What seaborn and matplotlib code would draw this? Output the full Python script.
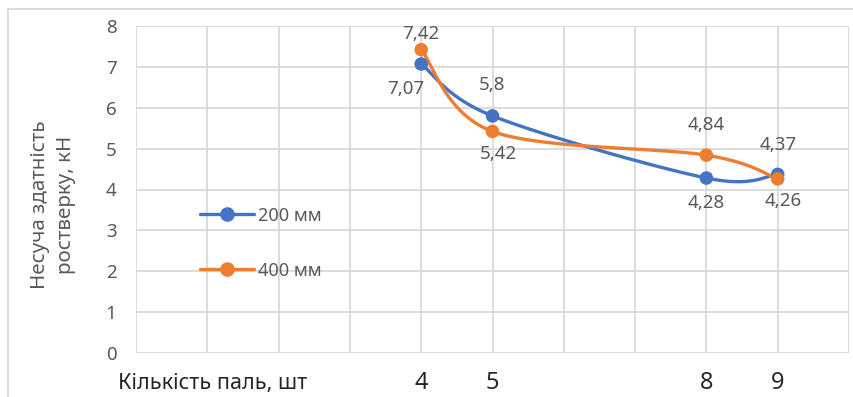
import numpy as np
import pandas as pd
import matplotlib
matplotlib.use("Agg")
import matplotlib.pyplot as plt
from matplotlib.lines import Line2D
import seaborn as sns

# ---- data ----
piles = [4, 5, 8, 9]
s200 = [7.07, 5.8, 4.28, 4.37]
s400 = [7.42, 5.42, 4.84, 4.26]
lab200 = ["7,07", "5,8", "4,28", "4,37"]
lab400 = ["7,42", "5,42", "4,84", "4,26"]
series_names = ["200 мм", "400 мм"]
xticks = [4, 5, 8, 9]
yticks = [0, 1, 2, 3, 4, 5, 6, 7, 8]

sns.set_theme(style="white")
plt.rcParams["font.family"] = ["Noto Sans", "DejaVu Sans"]

BLUE = "#4472C4"
ORANGE = "#ED7D31"
GRAY = "#595959"
GRID = "#D9D9D9"


def smooth(xs, ys, n=60):
    """Excel-like smoothed line (Catmull-Rom Bezier) through the data points."""
    P = np.column_stack([xs, ys]).astype(float)
    ext = np.vstack([P[0], P, P[-1]])
    out = []
    t = np.linspace(0, 1, n)[:, None]
    for i in range(len(P) - 1):
        p0, p1, p2, p3 = ext[i], ext[i + 1], ext[i + 2], ext[i + 3]
        c1 = p1 + (p2 - p0) / 6
        c2 = p2 - (p3 - p1) / 6
        seg = ((1 - t) ** 3) * p1 + 3 * ((1 - t) ** 2) * t * c1 + 3 * (1 - t) * t ** 2 * c2 + t ** 3 * p2
        out.append(seg if i == 0 else seg[1:])
    arr = np.vstack(out)
    return arr[:, 0], arr[:, 1]


fig = plt.figure(figsize=(8.54, 3.97), dpi=100)
ax = fig.add_axes([136 / 854, 44 / 397, 713 / 854, 327 / 397])

for vals, col, name in [(s200, BLUE, series_names[0]), (s400, ORANGE, series_names[1])]:
    sx, sy = smooth(piles, vals)
    df_line = pd.DataFrame({"x": sx, "y": sy})
    sns.lineplot(data=df_line, x="x", y="y", ax=ax, color=col, lw=2.4,
                 sort=False, estimator=None, zorder=3)
    df_pts = pd.DataFrame({"x": piles, "y": vals})
    sns.scatterplot(data=df_pts, x="x", y="y", ax=ax, color=col, s=95,
                    edgecolor="none", zorder=4)

# data labels (offsets in points)
off200 = [(-11, -18), (0, 22), (0, -18), (0, 21)]
off400 = [(0, 11), (4, -16), (0, 22), (4, -16)]
for xs, vals, labs, offs in [(piles, s200, lab200, off200), (piles, s400, lab400, off400)]:
    for x, y, l, o in zip(xs, vals, labs, offs):
        ax.annotate(l, (x, y), xytext=o, textcoords="offset points",
                    ha="center", va="center", fontsize=13.5, color=GRAY, zorder=5)

ax.set_xlim(0, 10)
ax.set_ylim(0, 8)
ax.set_xticks(range(0, 11))
ax.set_yticks(yticks)
ax.grid(True, color=GRID, lw=1.3)
ax.set_axisbelow(True)
for s in ax.spines.values():
    s.set_visible(False)
ax.tick_params(length=0)
ax.set_yticklabels([str(v) for v in yticks], fontsize=13.5, color=GRAY)
ax.tick_params(axis="y", pad=14)
# only label specific x positions
ax.set_xticklabels([str(v) if v in xticks else "" for v in range(0, 11)],
                   fontsize=17, color="#262626")
ax.tick_params(axis="x", pad=13)
ax.set_xlabel("")
ax.set_ylabel("")

fig.text(118 / 854, 1 - 383 / 397, "Кількість паль, шт", fontsize=15.5,
         color="#262626", ha="left", va="center")
fig.text(53 / 854, 1 - 205 / 397, "Несуча здатність\nростверку, кН", fontsize=14.8,
         color=GRAY, rotation=90, ha="center", va="center", multialignment="center",
         linespacing=1.4)

handles = [Line2D([], [], color=BLUE, lw=2.4, marker="o", ms=9.5),
           Line2D([], [], color=ORANGE, lw=2.4, marker="o", ms=9.5)]
ax.legend(handles, series_names, loc="upper left", bbox_to_anchor=(0.08, 0.47),
          frameon=False, fontsize=13, labelcolor=GRAY, labelspacing=2.05,
          handlelength=2.95, handletextpad=0.25, borderaxespad=0)

# outer chart frame
fig.add_artist(Line2D([8 / 854, 1.0], [1 - 8.5 / 397, 1 - 8.5 / 397], color=GRID, lw=1.3,
                      transform=fig.transFigure))
fig.add_artist(Line2D([8 / 854, 8 / 854], [0, 1 - 8.5 / 397], color=GRID, lw=1.3,
                      transform=fig.transFigure))

fig.savefig("out.png", dpi=100)
